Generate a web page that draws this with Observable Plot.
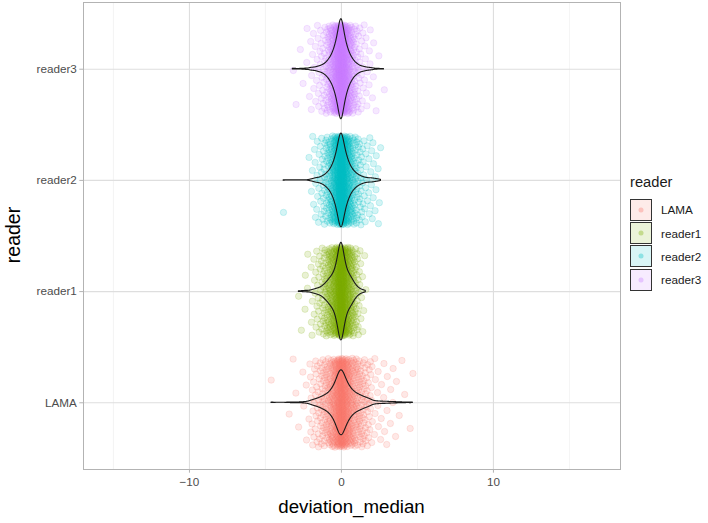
<!DOCTYPE html>
<html>
<head>
<meta charset="utf-8">
<script src="https://cdn.jsdelivr.net/npm/d3@7"></script>
<script src="https://cdn.jsdelivr.net/npm/@observablehq/plot@0.6"></script>
<style>
  html, body { margin: 0; padding: 0; background: #fff; }
  body { font-family: "Liberation Sans", Arial, sans-serif; }
  #wrap { position: relative; width: 708px; height: 523px; }
  #xtitle { position: absolute; left: 83px; width: 537px; top: 496px; text-align: center; font-size: 18.7px; color: #000; }
  #ytitle { position: absolute; left: 13px; top: 235px; transform: translate(-50%, -50%) rotate(-90deg); font-size: 19.5px; color: #000; white-space: nowrap; }
  #legend { position: absolute; left: 630px; top: 174px; font-size: 11.7px; color: #1a1a1a; }
  #legend .title { font-size: 14.7px; margin-bottom: 8px; }
  #legend .row { display: flex; align-items: center; height: 23.4px; }
  #legend .key { width: 22px; height: 22px; box-sizing: border-box; border: 1px solid #333; position: relative; margin-right: 9px; }
  #legend .key span { position: absolute; left: 50%; top: 50%; width: 5px; height: 5px; border-radius: 50%; transform: translate(-50%, -50%); }
</style>
</head>
<body>
<div id="wrap">
  <div id="chart"></div>
  <div id="xtitle">deviation_median</div>
  <div id="ytitle">reader</div>
  <div id="legend"></div>
</div>
<script>
// ---- data ----
const readers = ["LAMA", "reader1", "reader2", "reader3"];
const readerColors = ["#F8766D", "#7CAE00", "#00BFC4", "#C77CFF"];

const xTicks = [-10, 0, 10];
const xMinorGrid = [-15, -5, 5, 15];

// deviation_median values and how many observations sit at each value
const lamaDev   = [-4.6,-3.4,-3.2,-3.0,-2.8,-2.5,-2.3,-2.1,-2.0,-1.9,-1.8,-1.7,-1.6,-1.5,-1.4,-1.3,-1.2,-1.1,-1.0,-0.9,-0.8,-0.7,-0.6,-0.5,-0.4,-0.3,-0.2,-0.1,0.0,0.1,0.2,0.3,0.4,0.5,0.6,0.7,0.8,0.9,1.0,1.1,1.2,1.3,1.4,1.5,1.6,1.7,1.8,1.9,2.0,2.2,2.4,2.6,2.8,3.0,3.2,3.4,3.6,3.8,4.0,4.2,4.5,4.7];
const lamaCount = [1,1,1,1,1,2,2,2,3,4,4,5,5,6,7,8,9,10,11,12,14,16,19,22,26,32,38,48,56,47,38,33,28,24,21,18,16,14,13,12,11,10,9,8,7,7,6,5,5,4,4,3,3,3,2,2,2,1,1,1,1,1];

const reader1Dev   = [-2.8,-2.6,-2.4,-2.2,-2.0,-1.9,-1.8,-1.7,-1.6,-1.5,-1.4,-1.3,-1.2,-1.1,-1.0,-0.9,-0.8,-0.7,-0.6,-0.5,-0.4,-0.3,-0.2,-0.1,0.0,0.1,0.2,0.3,0.4,0.5,0.6,0.7,0.8,0.9,1.0,1.1,1.2,1.3,1.4,1.5,1.6];
const reader1Count = [1,1,2,2,2,2,3,3,4,5,5,6,8,10,12,14,17,20,22,25,30,38,50,65,84,64,48,36,29,25,22,19,15,11,8,6,4,3,2,2,1];

const reader2Dev   = [-3.8,-2.1,-2.0,-1.9,-1.8,-1.7,-1.6,-1.5,-1.4,-1.3,-1.2,-1.1,-1.0,-0.9,-0.8,-0.7,-0.6,-0.5,-0.4,-0.3,-0.2,-0.1,0.0,0.1,0.2,0.3,0.4,0.5,0.6,0.7,0.8,0.9,1.0,1.1,1.2,1.3,1.4,1.5,1.6,1.7,1.8,1.9,2.0,2.1,2.2,2.3,2.4,2.5,2.6];
const reader2Count = [1,1,1,2,2,3,4,3,4,5,6,7,9,11,13,16,20,25,31,40,50,64,80,63,50,40,32,26,21,17,14,12,10,8,7,6,5,4,4,3,3,3,3,3,2,2,2,1,1];

const reader3Dev   = [-3.2,-3.0,-2.7,-2.5,-2.3,-2.1,-2.0,-1.9,-1.8,-1.7,-1.6,-1.5,-1.4,-1.3,-1.2,-1.1,-1.0,-0.9,-0.8,-0.7,-0.6,-0.5,-0.4,-0.3,-0.2,-0.1,0.0,0.1,0.2,0.3,0.4,0.5,0.6,0.7,0.8,0.9,1.0,1.1,1.2,1.3,1.4,1.5,1.6,1.7,1.8,1.9,2.0,2.1,2.3,2.5,2.8];
const reader3Count = [1,1,1,1,2,1,3,1,3,2,3,4,4,5,6,7,9,11,14,17,21,26,33,41,52,66,82,64,50,40,31,25,20,16,13,10,8,7,5,4,4,3,3,2,2,2,1,2,1,1,1];

const devByReader = [[lamaDev, lamaCount], [reader1Dev, reader1Count], [reader2Dev, reader2Count], [reader3Dev, reader3Count]];

// ---- derived tables ----
const frac = v => v - Math.floor(v);
const points = [];
const violin = [];
let n = 0;
const densities = [];
devByReader.forEach(([vals, counts], k) => {
  const reader = readers[k];
  const raw = [];
  vals.forEach((v, i) => {
    for (let j = 0; j < counts[i]; j++) {
      raw.push(v);
      n++;
      // deterministic jitter (height 0.4 of the category step, width 0.04)
      const jy = 0.4 * (2 * frac(n * 0.6180339887 + 0.137) - 1);
      const jx = 0.04 * (2 * frac(n * 0.7548776662 + 0.5) - 1);
      points.push({reader, dev: v + jx, pos: k + 1 + jy});
    }
  });
  raw.sort((a, b) => a - b);
  const sd = d3.deviation(raw);
  const iqr = d3.quantile(raw, 0.75) - d3.quantile(raw, 0.25);
  const bw = 0.9 * Math.min(sd, iqr / 1.34) * Math.pow(raw.length, -0.2);
  const lo = raw[0], hi = raw[raw.length - 1];
  const grid = d3.range(512).map(i => lo + (hi - lo) * i / 511);
  const dens = grid.map(x => {
    let s = 0;
    for (const v of raw) { const u = (x - v) / bw; s += Math.exp(-0.5 * u * u); }
    return s / (raw.length * bw * Math.sqrt(2 * Math.PI));
  });
  densities.push({reader, k, grid, dens});
});
const maxDens = d3.max(densities, d => d3.max(d.dens));
densities.forEach(({reader, k, grid, dens}) => {
  grid.forEach((x, i) => {
    const w = dens[i] / maxDens * 0.45;
    violin.push({reader, dev: x, y1: k + 1 - w, y2: k + 1 + w});
  });
});

const chart = Plot.plot({
  width: 708,
  height: 523,
  marginLeft: 83,
  marginRight: 88,
  marginTop: 2,
  marginBottom: 54,
  style: {fontFamily: "'Liberation Sans', Arial, sans-serif", background: "#fff"},
  x: {domain: [-16.97, 18.36], label: null},
  y: {domain: [0.4, 4.6], label: null},
  color: {domain: readers, range: readerColors},
  marks: [
    Plot.gridX(xMinorGrid, {stroke: "#EDEDED", strokeOpacity: 1, strokeWidth: 0.6}),
    Plot.gridX(xTicks, {stroke: "#DEDEDE", strokeOpacity: 1, strokeWidth: 1.1}),
    Plot.gridY([1, 2, 3, 4], {stroke: "#DEDEDE", strokeOpacity: 1, strokeWidth: 1.1}),
    Plot.dot(points, {x: "dev", y: "pos", r: 3.2, fill: "reader", stroke: "reader", fillOpacity: 0.17, strokeOpacity: 0.21, strokeWidth: 0.8}),
    Plot.areaY(violin, {x: "dev", y1: "y1", y2: "y2", z: "reader", fill: "reader", fillOpacity: 0.15, stroke: "#1a1a1a", strokeWidth: 1.1, curve: "linear"}),
    Plot.frame({stroke: "#B3B3B3", strokeWidth: 1}),
    Plot.axisX(xTicks, {tickSize: 3.7, tickPadding: 4, stroke: "#B3B3B3", fill: "#4D4D4D", fontSize: 11.7, label: null}),
    Plot.axisY([1, 2, 3, 4], {tickSize: 3.7, tickPadding: 3, stroke: "#B3B3B3", fill: "#4D4D4D", fontSize: 11.7, tickFormat: i => readers[i - 1], label: null})
  ]
});
document.getElementById("chart").appendChild(chart);

// legend
const legend = document.getElementById("legend");
const t = document.createElement("div");
t.className = "title";
t.textContent = "reader";
legend.appendChild(t);
readers.forEach((r, i) => {
  const row = document.createElement("div");
  row.className = "row";
  const key = document.createElement("div");
  key.className = "key";
  const c = d3.color(readerColors[i]);
  c.opacity = 0.15;
  key.style.background = c.formatRgb();
  const dot = document.createElement("span");
  const c2 = d3.color(readerColors[i]);
  c2.opacity = 0.35;
  dot.style.background = c2.formatRgb();
  key.appendChild(dot);
  const lab = document.createElement("div");
  lab.textContent = r;
  row.appendChild(key);
  row.appendChild(lab);
  legend.appendChild(row);
});
</script>
</body>
</html>
